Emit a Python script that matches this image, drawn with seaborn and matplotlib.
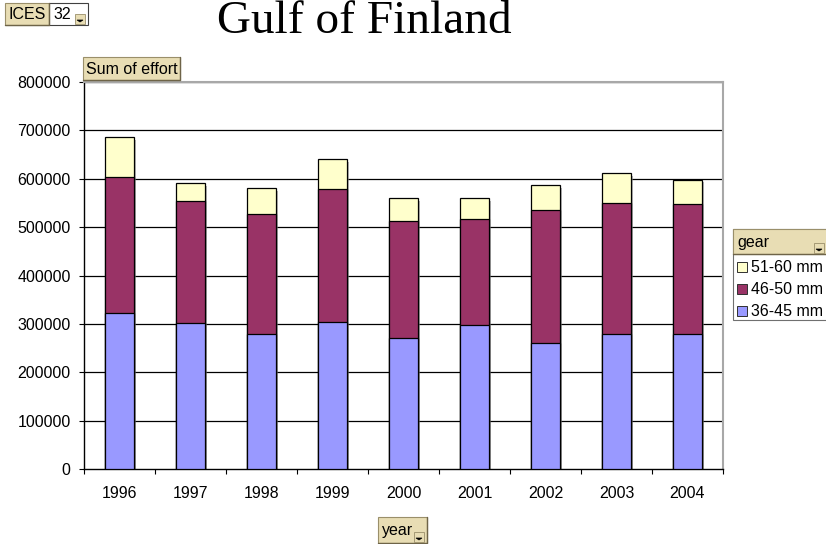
import numpy as np
import pandas as pd
import matplotlib
matplotlib.use("Agg")
import matplotlib.pyplot as plt
import matplotlib.patches as mpatches
import matplotlib.patheffects as pe
import seaborn as sns

years = ["1996", "1997", "1998", "1999", "2000", "2001", "2002", "2003", "2004"]
mesh_36_45 = [322000, 302000, 280000, 304000, 270000, 297000, 260000, 280000, 280000]
mesh_46_50 = [281000, 252000, 248000, 275000, 242000, 220000, 275000, 270000, 268000]
mesh_51_60 = [83000, 37000, 52000, 62000, 48000, 43000, 52000, 62000, 50000]
series_names = ["51-60 mm", "46-50 mm", "36-45 mm"]
yticks = [0, 100000, 200000, 300000, 400000, 500000, 600000, 700000, 800000]

C_BLUE = "#9999FF"
C_MAG = "#993366"
C_YEL = "#FFFFCC"
BEIGE = "#E8DDB4"

sns.set_theme(style="white")
plt.rcParams["font.family"] = ["Liberation Sans", "DejaVu Sans"]

W, H = 826, 544
fig = plt.figure(figsize=(W / 100, H / 100), dpi=100)

def fx(x):
    return x / W

def fy(y):
    return 1 - y / H

ax_l, ax_r, ax_t, ax_b = 84, 723, 82, 469
ax = fig.add_axes([fx(ax_l), fy(ax_b), (ax_r - ax_l) / W, (ax_b - ax_t) / H])

df = pd.DataFrame({"year": years, "a": mesh_36_45, "b": mesh_46_50, "c": mesh_51_60})
df["ab"] = df["a"] + df["b"]
df["abc"] = df["ab"] + df["c"]

# gridlines behind bars
for v in yticks[1:]:
    ax.axhline(v, color="black", lw=0.9, zorder=0.5)

bw = 0.4
sns.barplot(data=df, x="year", y="abc", color=C_YEL, width=bw, edgecolor="black",
            linewidth=0.9, saturation=1, ax=ax, zorder=2)
for p in ax.patches:
    p.set_path_effects([pe.SimplePatchShadow(offset=(2, -2), shadow_rgbFace="#888888", alpha=0.6),
                        pe.Normal()])
sns.barplot(data=df, x="year", y="ab", color=C_MAG, width=bw, edgecolor="black",
            linewidth=0.9, saturation=1, ax=ax, zorder=3)
sns.barplot(data=df, x="year", y="a", color=C_BLUE, width=bw, edgecolor="black",
            linewidth=0.9, saturation=1, ax=ax, zorder=4)

ax.set_xlim(-0.5, len(years) - 0.5)
ax.set_ylim(0, 800000)
ax.set_xlabel("")
ax.set_ylabel("")
ax.set_yticks(yticks)
ax.set_yticklabels([str(v) for v in yticks], fontsize=11.5)
ax.tick_params(axis="y", direction="out", length=3.6, width=0.8, color="black",
               left=True, pad=6, labelcolor="black")
ax.set_xticks(np.arange(-0.5, len(years), 1.0))
ax.set_xticklabels([])
ax.set_xticks(np.arange(len(years)), minor=True)
ax.set_xticklabels(years, minor=True, fontsize=11.5)
ax.tick_params(axis="x", which="major", direction="out", length=3.6, width=0.8,
               color="black", bottom=True)
ax.tick_params(axis="x", which="minor", length=0, pad=12.5, labelcolor="black")
ax.grid(False)
for s in ["top", "right"]:
    ax.spines[s].set_color("#a8a8a8")
    ax.spines[s].set_linewidth(1.5)
for s in ["left", "bottom"]:
    ax.spines[s].set_color("black")
    ax.spines[s].set_linewidth(1.0)
ax.set_facecolor("white")
ax.set_zorder(1)

# title
fig.text(fx(364), fy(33), "Gulf of Finland", family=["Liberation Serif", "DejaVu Serif"],
         fontsize=34, ha="center", va="baseline", color="black")

def rect(x0, y0, x1, y1, fc, ec="#7a7050", lw=0.8, z=5):
    r = mpatches.Rectangle((fx(x0), fy(y1)), fx(x1) - fx(x0), fy(y0) - fy(y1),
                           transform=fig.transFigure, facecolor=fc, edgecolor=ec,
                           linewidth=lw, zorder=z)
    fig.add_artist(r)

def button(x0, y0, x1, y1, label, fs=11.5, ha="center", tx=None):
    rect(x0, y0, x1, y1, BEIGE, ec="#9a8f6a", lw=0.8)
    fig.add_artist(plt.Line2D([fx(x0), fx(x1), fx(x1)], [fy(y1), fy(y1), fy(y0)],
                              transform=fig.transFigure, color="#6e6448", lw=1.0, zorder=6))
    if tx is None:
        tx = (x0 + x1) / 2
    fig.text(fx(tx), fy((y0 + y1) / 2 + 0.5), label, fontsize=fs, ha=ha, va="center",
             color="black", zorder=7)

def dropdown(x0, y0, x1, y1):
    rect(x0, y0, x1, y1, BEIGE, ec="#9a8f6a", lw=0.6, z=8)
    cx = (x0 + x1) / 2
    tri = mpatches.Polygon([(fx(cx - 3), fy(y1 - 4)), (fx(cx + 3), fy(y1 - 4)),
                            (fx(cx), fy(y1 - 2))], closed=True, transform=fig.transFigure,
                           facecolor="black", edgecolor="black", lw=0.5, zorder=9)
    fig.add_artist(tri)

# ICES / 32 page field
button(5, 3, 49, 25, "ICES")
rect(49, 3, 88, 25, "white", ec="#404040", lw=0.8)
fig.text(fx(53), fy(14.5), "32", fontsize=11.5, ha="left", va="center", color="black", zorder=7)
dropdown(75, 14, 85, 24)

# Sum of effort
button(83, 57, 180, 80, "Sum of effort")

# year
button(378, 517, 427, 543, "year", tx=382, ha="left")
dropdown(414, 532, 424, 542)

# legend
rect(733, 229, 830, 320, "white", ec="#707070", lw=0.8)
button(733, 229, 830, 254, "gear", tx=737, ha="left")
dropdown(814, 243, 824, 253)
leg_colors = [C_YEL, C_MAG, C_BLUE]
leg_y = [267, 289, 311]
for name, c, yy in zip(series_names, leg_colors, leg_y):
    rect(737, yy - 5, 747, yy + 5, c, ec="#303030", lw=0.7, z=8)
    fig.text(fx(751), fy(yy + 0.5), name, fontsize=11.5, ha="left", va="center",
             color="black", zorder=9)

fig.savefig("out.png", dpi=100, facecolor="white")
